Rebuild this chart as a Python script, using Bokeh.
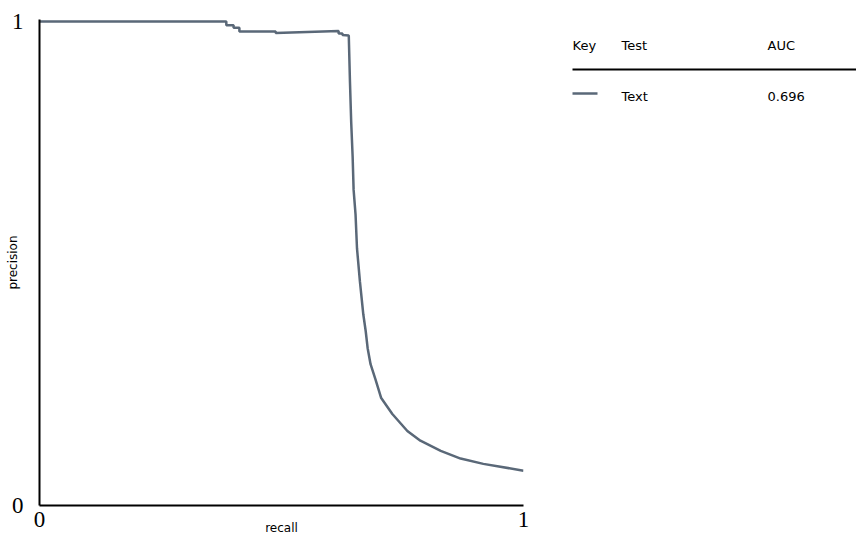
from bokeh.core.properties import value
from bokeh.embed import file_html
from bokeh.layouts import row
from bokeh.models import FixedTicker, Range1d
from bokeh.plotting import figure
from bokeh.resources import INLINE

# Precision-recall curve of the "Text" test
recall = [0.000, 0.386, 0.386, 0.401, 0.401, 0.413, 0.413, 0.488, 0.488,
          0.618, 0.618, 0.626, 0.626, 0.639, 0.6415, 0.644, 0.647, 0.649,
          0.653, 0.656, 0.662, 0.669, 0.674, 0.678, 0.684, 0.694, 0.706,
          0.729, 0.760, 0.787, 0.829, 0.870, 0.917, 1.000]
precision = [1.000, 1.000, 0.992, 0.992, 0.987, 0.987, 0.979, 0.979, 0.976,
             0.980, 0.975, 0.975, 0.972, 0.971, 0.874, 0.792, 0.720, 0.652,
             0.601, 0.531, 0.463, 0.395, 0.360, 0.325, 0.292, 0.261, 0.222,
             0.189, 0.154, 0.134, 0.113, 0.097, 0.086, 0.072]

axis_ticks = [0, 1]
x_title = "recall"
y_title = "precision"

legend_headers = ["Key", "Test", "AUC"]
series_name = "Text"
series_auc = 0.696

LINE_COLOR = "#5a6878"
SERIF = "Liberation Serif"
SANS = "DejaVu Sans"

# ---- main chart -------------------------------------------------------------
p = figure(
    width=540, height=541,
    x_range=Range1d(0, 1), y_range=Range1d(0, 1.004),
    output_backend="svg", toolbar_location=None,
    min_border_left=39, min_border_right=17,
    min_border_top=19, min_border_bottom=36,
)
p.outline_line_color = None
p.grid.visible = False
p.background_fill_color = "white"
p.border_fill_color = "white"

for ax in (p.xaxis[0], p.yaxis[0]):
    ax.ticker = FixedTicker(ticks=axis_ticks)
    ax.axis_line_color = "black"
    ax.axis_line_width = 2
    ax.major_tick_line_color = None
    ax.minor_tick_line_color = None
    ax.major_tick_in = 0
    ax.major_tick_out = 0
    ax.minor_tick_in = 0
    ax.minor_tick_out = 0
    ax.major_label_text_font = SERIF
    ax.major_label_text_font_size = "23px"
    ax.major_label_text_color = "black"
    ax.axis_label_text_font = SANS
    ax.axis_label_text_font_size = "12px"
    ax.axis_label_text_font_style = "normal"
    ax.axis_label_text_color = "black"

p.xaxis.major_label_standoff = 6
p.yaxis.major_label_standoff = 16
p.xaxis.axis_label = x_title
p.yaxis.axis_label = y_title
# pull the titles in close to the tick labels
p.xaxis.axis_label_standoff = -9
p.yaxis.axis_label_standoff = -11

p.line(recall, precision, line_color=LINE_COLOR, line_width=2.5)

# ---- legend table -----------------------------------------------------------
# The row aligns this frame with the chart frame (top 19 px, bottom 505 px),
# so the y range is expressed in page pixels over that span.
leg = figure(
    width=316, height=541, title=None,
    x_range=Range1d(540, 856), y_range=Range1d(505, 19),
    x_axis_location=None, y_axis_location=None,
    output_backend="svg", toolbar_location=None,
    min_border=0,
)
leg.grid.visible = False
leg.outline_line_color = None

leg.text(
    x=[572, 621, 767], y=[45, 45, 45], text=legend_headers,
    text_font=value(SANS), text_font_size="13px",
    text_baseline="middle", text_align="left", text_color="black",
)
leg.segment(x0=[572], y0=[69], x1=[856], y1=[69], line_color="black", line_width=2)
leg.segment(x0=[572], y0=[93], x1=[597], y1=[93], line_color=LINE_COLOR, line_width=2.5)
leg.text(
    x=[621, 767], y=[96, 96], text=[series_name, f"{series_auc:.3f}"],
    text_font=value(SANS), text_font_size="13px",
    text_baseline="middle", text_align="left", text_color="black",
)

layout = row(p, leg)
open("out.html", "w").write(file_html(layout, INLINE))
